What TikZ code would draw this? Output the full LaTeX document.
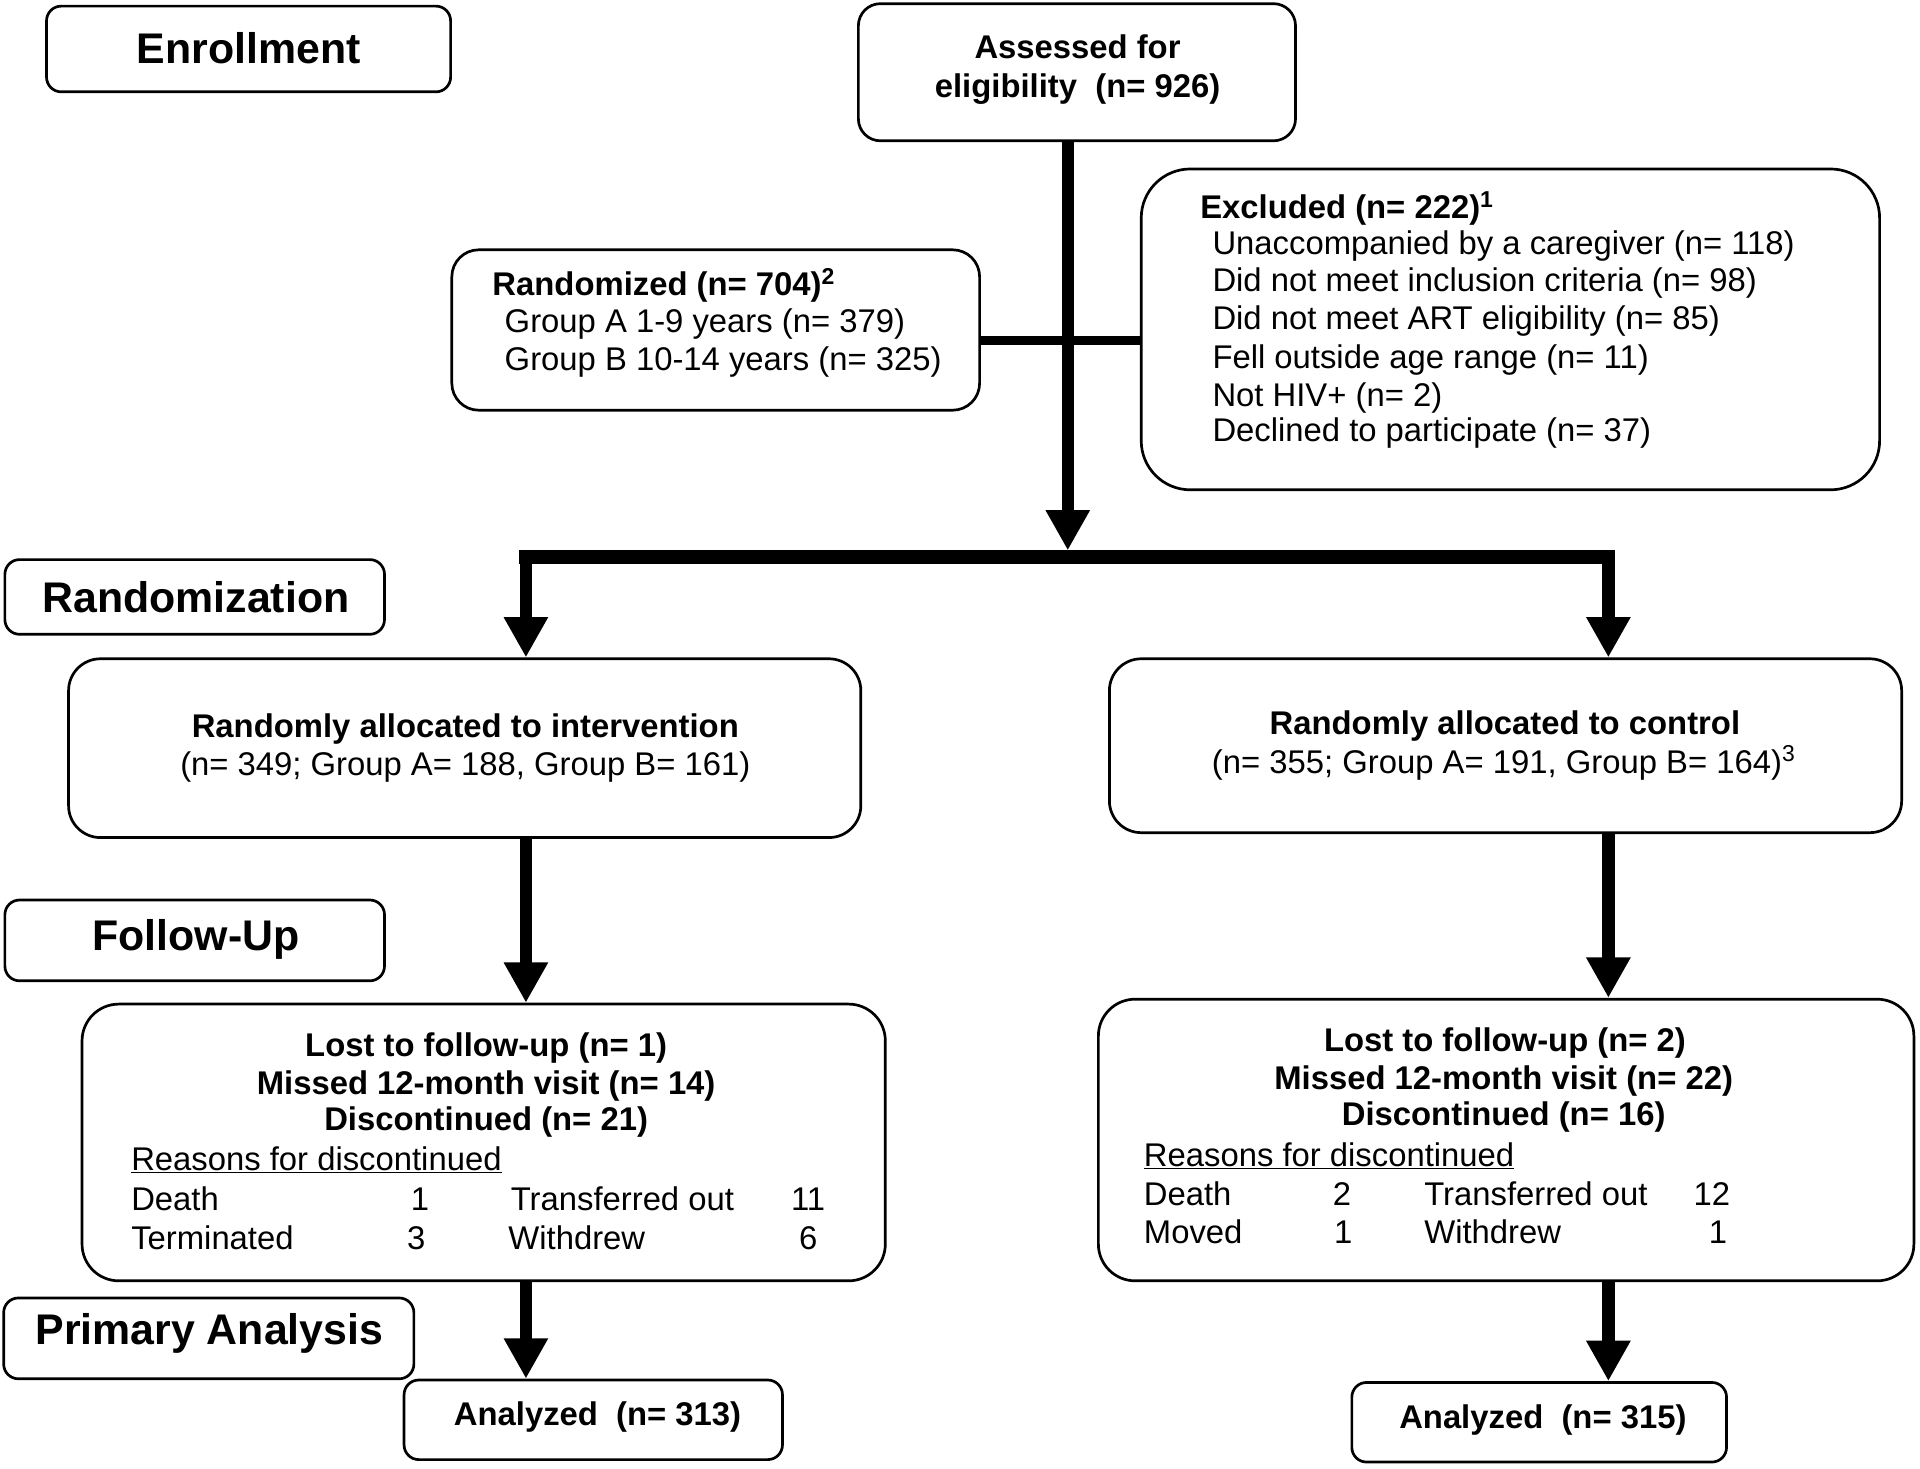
\documentclass[tikz,border=0pt]{standalone}
\usepackage{fontspec}
\setmainfont{Liberation Sans}
\usetikzlibrary{arrows.meta}
\newcommand{\bodyf}{\fontsize{26.8}{31}\selectfont}
\newcommand{\headf}{\fontsize{35}{40}\selectfont\bfseries}
\begin{document}
\begin{tikzpicture}[x=1pt,y=-1pt,
  box/.style={draw, line width=2.2pt, rounded corners=#1, inner sep=0pt},
  box/.default=14pt,
  head/.style={inner sep=0pt, font=\headf},
  txt/.style={inner sep=0pt, font=\bodyf},
  btxt/.style={inner sep=0pt, font=\bodyf\bfseries},
  arr/.style={line width=10pt, -{Triangle[width=34pt,length=33pt]}},
  bar/.style={line width=11pt, line cap=rect}]
\useasboundingbox (0,0) rectangle (1568,1199);
\fill[white] (0,0) rectangle (1568,1199);

% boxes
\node[box=12pt, minimum width=330pt, minimum height=70pt] (enroll) at (203,40) {};
\node[box=18pt, minimum width=357pt, minimum height=112pt] (assess) at (879.5,59) {};
\node[box=40pt, minimum width=603pt, minimum height=262pt] (excl) at (1233.5,269) {};
\node[box=22pt, minimum width=431pt, minimum height=131pt] (rand) at (584.5,269.5) {};
\node[box=12pt, minimum width=310pt, minimum height=61pt] (randz) at (159,487.5) {};
\node[box=26pt, minimum width=647pt, minimum height=146pt] (interv) at (379.5,611) {};
\node[box=26pt, minimum width=647pt, minimum height=142pt] (ctrl) at (1229.5,609) {};
\node[box=12pt, minimum width=310pt, minimum height=66pt] (follow) at (159,768) {};
\node[box=30pt, minimum width=656pt, minimum height=226pt] (fl) at (395,933) {};
\node[box=30pt, minimum width=666pt, minimum height=230pt] (fr) at (1230,931) {};
\node[box=12pt, minimum width=335pt, minimum height=66pt] (prim) at (170.5,1093) {};
\node[box=12pt, minimum width=309pt, minimum height=65pt] (al) at (484.5,1159.5) {};
\node[box=12pt, minimum width=306pt, minimum height=65pt] (ar) at (1257,1161.5) {};

% connectors
\coordinate (xm) at (872,0);
\coordinate (xl) at (429.5,0);
\coordinate (xr) at (1313.5,0);
\coordinate (jn) at (872,449.5);
\coordinate (cross) at (872,278);
\coordinate (barL) at (429.5,455);
\coordinate (barR) at (1313.5,455);
\draw[line width=8pt] (rand.east |- cross) -- (excl.west |- cross);
\draw[arr] (assess.south -| xm) -- (jn);
\draw[bar] (barL) -- (barR);
\draw[arr] (barL) -- (barL |- interv.north);
\draw[arr] (barR) -- (barR |- ctrl.north);
\draw[arr] (interv.south -| xl) -- (fl.north -| xl);
\draw[arr] (ctrl.south -| xr) -- (fr.north -| xr);
\draw[arr] (fl.south -| xl) -- (al.north -| xl);
\draw[arr] (fr.south -| xr) -- (ar.north -| xr);

% titles
\node[head] (tEnroll) at (203,39) {Enrollment};
\node[head] (tRandz) at (160,488) {Randomization};
\node[head] (tFollow) at (160,767) {Follow-Up};
\node[head] (tPrim) at (171,1089) {Primary Analysis};

% assessed
\node[btxt] (a1) at (880,38) {Assessed for};
\node[btxt] (a2) at (880,73) {eligibility\ \ (n= 926)};

% excluded
\node[btxt, anchor=west] (e0) at (980,170) {Excluded (n= 222)\textsuperscript{1}};
\node[txt, anchor=west] (e1) at (990,201) {Unaccompanied by a caregiver (n= 118)};
\node[txt, anchor=west] (e2) at (990,231) {Did not meet inclusion criteria (n= 98)};
\node[txt, anchor=west] (e3) at (990,262) {Did not meet ART eligibility (n= 85)};
\node[txt, anchor=west] (e4) at (990,294) {Fell outside age range (n= 11)};
\node[txt, anchor=west] (e5) at (990,325) {Not HIV+ (n= 2)};
\node[txt, anchor=west] (e6) at (990,354) {Declined to participate (n= 37)};

% randomized
\node[btxt, anchor=west] (r0) at (402,233) {Randomized (n= 704)\textsuperscript{2}};
\node[txt, anchor=west] (r1) at (412,265) {Group A 1-9 years (n= 379)};
\node[txt, anchor=west] (r2) at (412,296) {Group B 10-14 years (n= 325)};

% allocation
\node[btxt] (i1) at (380,595) {Randomly allocated to intervention};
\node[txt] (i2) at (380,626) {(n= 349; Group A= 188, Group B= 161)};
\node[btxt] (c1) at (1229,593) {Randomly allocated to control};
\node[txt] (c2) at (1228,623) {(n= 355; Group A= 191, Group B= 164)\textsuperscript{3}};

% follow-up left
\node[btxt] (fl1) at (397,856) {Lost to follow-up (n= 1)};
\node[btxt] (fl2) at (397,887) {Missed 12-month visit (n= 14)};
\node[btxt] (fl3) at (397,916) {Discontinued (n= 21)};
\node[txt, anchor=west] (fl4) at (107,947) {\underline{Reasons for discontinued}};
\node[txt, anchor=west] (fl5) at (107,979) {Death};
\node[txt] (fl6) at (343,979) {1};
\node[txt, anchor=west] (fl7) at (417,979) {Transferred out};
\node[txt] (fl8) at (660,979) {11};
\node[txt, anchor=west] (fl9) at (107,1011) {Terminated};
\node[txt] (fl10) at (340,1011) {3};
\node[txt, anchor=west] (fl11) at (415,1011) {Withdrew};
\node[txt] (fl12) at (660,1011) {6};

% follow-up right
\node[btxt] (fr1) at (1229,852) {Lost to follow-up (n= 2)};
\node[btxt] (fr2) at (1228,883) {Missed 12-month visit (n= 22)};
\node[btxt] (fr3) at (1228,912) {Discontinued (n= 16)};
\node[txt, anchor=west] (fr4) at (934,944) {\underline{Reasons for discontinued}};
\node[txt, anchor=west] (fr5) at (934,975) {Death};
\node[txt] (fr6) at (1096,975) {2};
\node[txt, anchor=west] (fr7) at (1163,975) {Transferred out};
\node[txt] (fr8) at (1398,975) {12};
\node[txt, anchor=west] (fr9) at (934,1006) {Moved};
\node[txt] (fr10) at (1097,1006) {1};
\node[txt, anchor=west] (fr11) at (1163,1006) {Withdrew};
\node[txt] (fr12) at (1403,1006) {1};

% analyzed
\node[btxt] (al1) at (488,1157) {Analyzed\ \ (n= 313)};
\node[btxt] (ar1) at (1260,1160) {Analyzed\ \ (n= 315)};
\end{tikzpicture}
\end{document}
